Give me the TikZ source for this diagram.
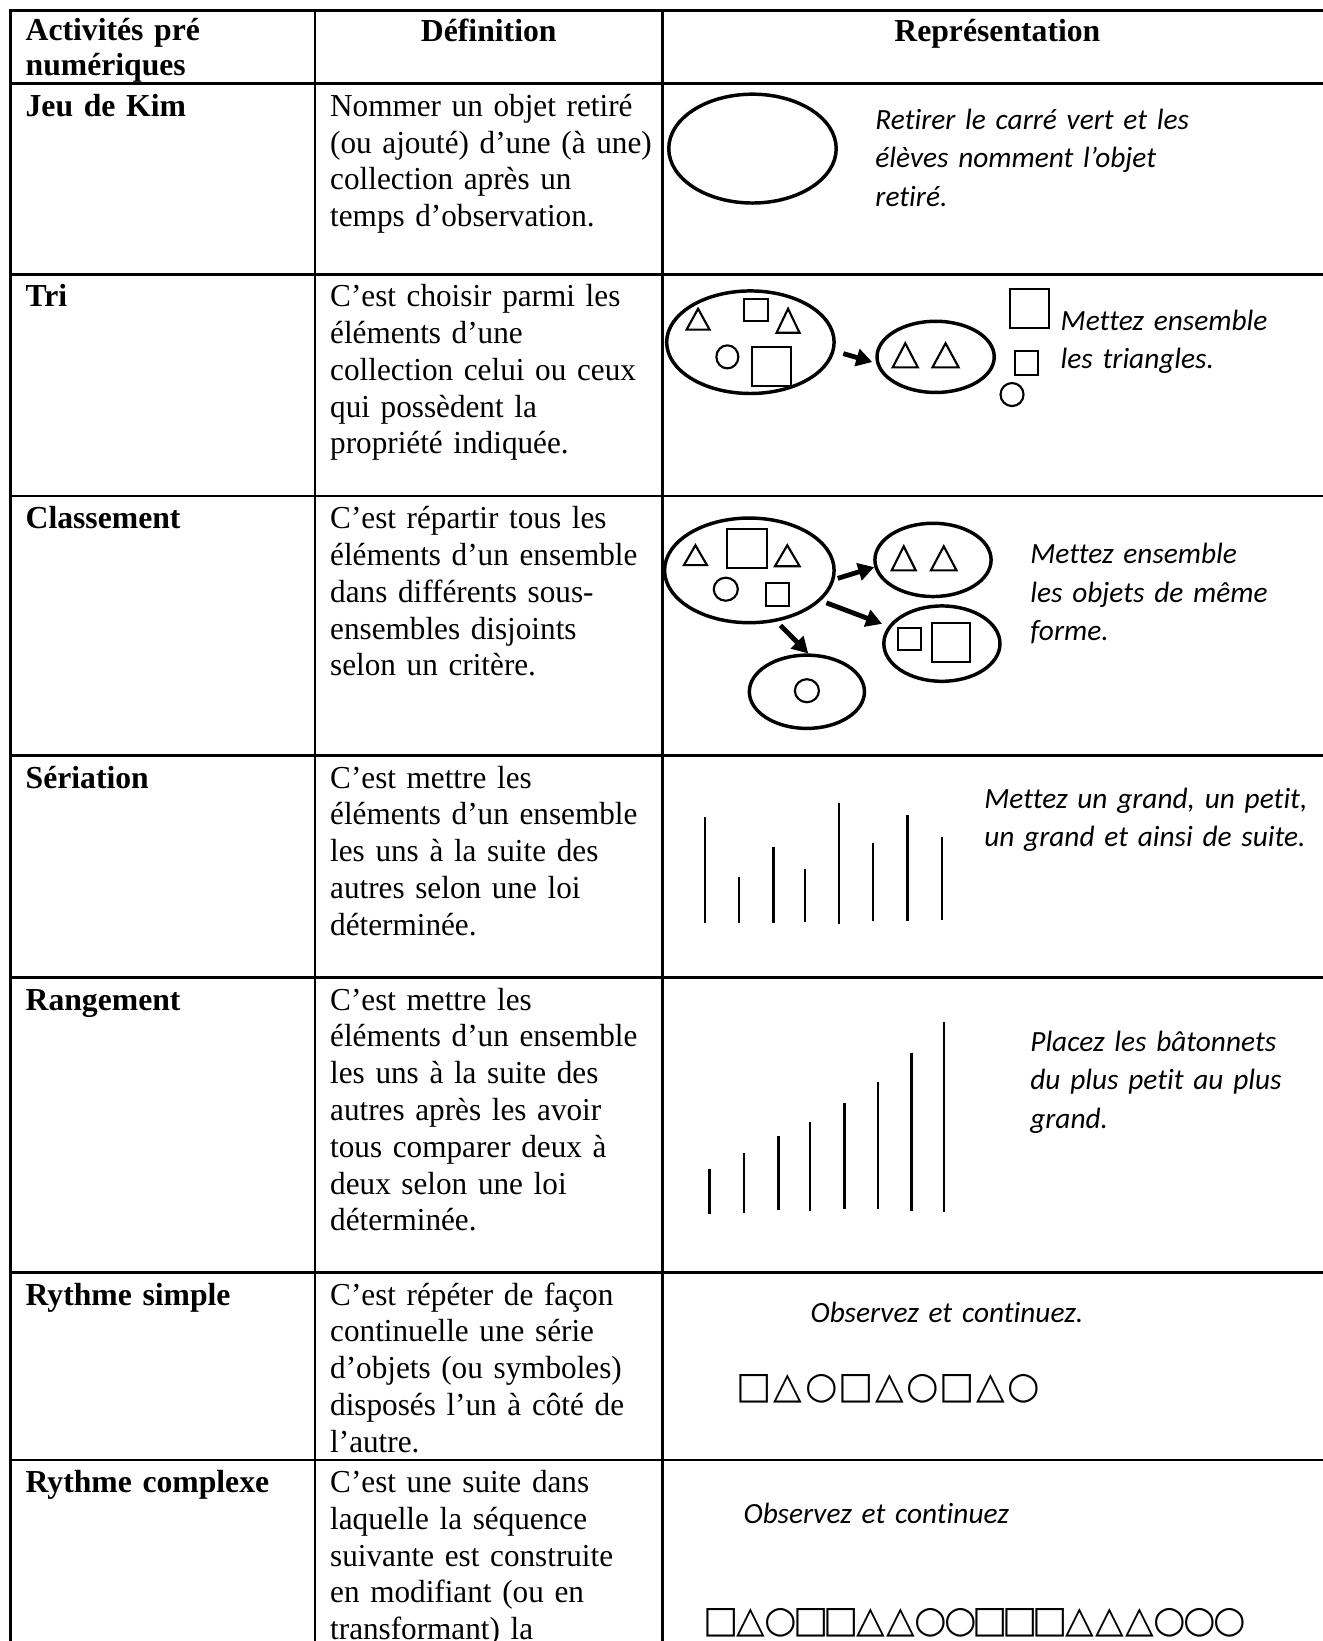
\documentclass[tikz,border=0pt]{standalone}
\usepackage{fontspec}
\setmainfont{Liberation Serif}[FakeStretch=0.975, BoldFeatures={FakeStretch=0.99}]
\newfontfamily\calfont{Carlito}[Ligatures={NoCommon,NoContextual}]
\newfontfamily\symfont{DejaVu Sans}
\usetikzlibrary{arrows.meta,shapes.geometric}
\begin{document}
\begin{tikzpicture}[x=0.3925pt,y=-0.3925pt,
  tabline/.style={line width=1pt},
  lab/.style={anchor=north west, inner sep=0pt, text width=135pt, align=left, font=\fontsize{12}{13.8}\selectfont},
  labb/.style={lab, font=\bfseries\fontsize{12}{13.8}\selectfont},
  hdc/.style={anchor=north, inner sep=0pt, font=\bfseries\fontsize{12}{13.8}\selectfont},
  rep/.style={anchor=north west, inner sep=0pt, text width=150pt, align=left, font=\calfont\itshape\fontsize{11}{14.5}\selectfont},
  oval/.style={ellipse, draw, line width=1.3pt, inner sep=0pt},
  ell/.style 2 args={oval, minimum width=#1*0.785pt, minimum height=#2*0.785pt},
  shp/.style={line width=0.8pt},
  arr/.style={line width=1.8pt, -{Triangle[length=6pt,width=6.5pt]}},
  stick/.style={line width=0.9pt},
  sym/.style={inner sep=0pt, font=\symfont\fontsize{14}{14}\selectfont}
]
\fill[white] (0,0) rectangle (1264,1568);
\useasboundingbox (0,0) rectangle (1264,1568);
\clip (0,0) rectangle (1264,1568);

% table rules
\draw[tabline] (1300,10) -- (10,10) -- (10,1600);
\foreach \yy in {80,262,474,722,934,1216,1395}
  \draw[tabline] (10,\yy) -- (1300,\yy);
\foreach \xx in {301,633}
  \draw[tabline] (\xx,10) -- (\xx,1600);

% header
\node[labb, font=\bfseries\fontsize{12}{13}\selectfont] (h1) at (24,15) {\strut Activités pré\\numériques};
\node[hdc] (h2) at (467,15) {\strut Définition};
\node[hdc] (h3) at (953,15) {\strut Représentation};

% column 1
\node[labb] (a1) at (24,86) {\strut Jeu de Kim};
\node[labb] (a2) at (24,268) {\strut Tri};
\node[labb] (a3) at (24,480) {\strut Classement};
\node[labb] (a4) at (24,728) {\strut Sériation};
\node[labb] (a5) at (24,940) {\strut Rangement};
\node[labb] (a6) at (24,1222) {\strut Rythme simple};
\node[labb] (a7) at (24,1401) {\strut Rythme complexe};

% column 2
\node[lab] (d1) at (315,86) {\strut Nommer un objet retiré\\(ou ajouté) d’une (à une)\\collection après un\\temps d’observation.};
\node[lab] (d2) at (315,268) {\strut C’est choisir parmi les\\éléments d’une\\collection celui ou ceux\\qui possèdent la\\propriété indiquée.};
\node[lab] (d3) at (315,480) {\strut C’est répartir tous les\\éléments d’un ensemble\\dans différents sous-\\ensembles disjoints\\selon un critère.};
\node[lab] (d4) at (315,728) {\strut C’est mettre les\\éléments d’un ensemble\\les uns à la suite des\\autres selon une loi\\déterminée.};
\node[lab] (d5) at (315,940) {\strut C’est mettre les\\éléments d’un ensemble\\les uns à la suite des\\autres après les avoir\\tous comparer deux à\\deux selon une loi\\déterminée.};
\node[lab] (d6) at (315,1222) {\strut C’est répéter de façon\\continuelle une série\\d’objets (ou symboles)\\disposés l’un à côté de\\l’autre.};
\node[lab] (d7) at (315,1401) {\strut C’est une suite dans\\laquelle la séquence\\suivante est construite\\en modifiant (ou en\\transformant) la};

% column 3 texts
\node[rep] (r1) at (836,97) {\strut Retirer le carré vert et les\\élèves nomment l’objet\\retiré.};
\node[rep] (r2) at (1013,289) {\strut Mettez ensemble\\les triangles.};
\node[rep] (r3) at (984,512) {\strut Mettez ensemble\\les objets de même\\forme.};
\node[rep] (r4) at (940,746) {\strut Mettez un grand, un petit,\\un grand et ainsi de suite.};
\node[rep] (r5) at (984,978) {\strut Placez les bâtonnets\\du plus petit au plus\\grand.};
\node[rep] (r6) at (774,1237) {\strut Observez et continuez.};
\node[rep] (r7) at (710,1429) {\strut Observez et continuez};

% Jeu de Kim
\node[ell={80}{52}] (k1) at (719,142) {};

% Tri
\node[ell={80}{49}] (t1) at (717,327) {};
\draw[shp] (656,315) -- (667,295) -- (678,315) -- cycle;
\draw[shp] (711,286) rectangle (734,307);
\draw[shp] (742,318) -- (753,295) -- (764,318) -- cycle;
\draw[shp] (695,341) ellipse [x radius=10.5, y radius=11];
\draw[shp] (718.5,331.5) rectangle (755.7,369);
\node[ell={56}{34}] (t2) at (894,341) {};
\draw[shp] (853,351) -- (865,328) -- (877,351) -- cycle;
\draw[shp] (891,351) -- (903.5,328) -- (916,351) -- cycle;
\draw[shp] (965,276) rectangle (1002,313);
\draw[shp] (970,335) rectangle (992,358);
\draw[shp] (967,377) ellipse [x radius=11, y radius=11];
\draw[arr, shorten <=3.4pt, shorten >=1.5pt] (t1.-6) -- (t2.186);

% Classement
\node[ell={81}{50}] (c1) at (716,545) {};
\draw[shp] (653.5,540) -- (664.5,521) -- (675.5,540) -- cycle;
\draw[shp] (694.6,505.6) rectangle (733,542.7);
\draw[shp] (740.5,541) -- (752.25,521) -- (764,541) -- cycle;
\draw[shp] (693.5,563) ellipse [x radius=11.5, y radius=11];
\draw[shp] (732,557) rectangle (754,579);
\node[ell={55.5}{35}] (c2) at (891.5,535) {};
\draw[shp] (852,545) -- (863.5,522) -- (875,545) -- cycle;
\draw[shp] (889.5,545) -- (901.75,522) -- (914,545) -- cycle;
\node[ell={55.5}{36}] (c3) at (900,615) {};
\draw[shp] (858,600) rectangle (880,621);
\draw[shp] (890.5,595) rectangle (926.5,632.5);
\node[ell={55}{35}] (c4) at (771,661) {};
\draw[shp] (771,660) ellipse [x radius=11.5, y radius=11];
\draw[arr, shorten <=1.2pt] (c1.-6) -- (c2.187.5);
\draw[arr, shorten <=2.2pt, shorten >=2.5pt] (c1.-23) -- (c3.162);
\draw[arr, shorten <=2pt] (c1.-62.6) -- (c4.88);

% Seriation
\foreach \xx/\ta/\tb in {673.6/780.6/881.5, 706/838/881.5, 739/809/881.5, 769/830/880.6, 801.5/767/882.8, 834/805.5/880, 867/779/880, 900/800/879.2}
  \draw[stick] (\xx,\ta) -- (\xx,\tb);

% Rangement
\foreach \xx/\ta/\tb in {678/1117/1160, 711/1102/1159, 744/1085/1156, 774/1072/1157, 807/1054/1155, 839/1034/1155.4, 871/1006/1157, 902/977/1157.6}
  \draw[stick] (\xx,\ta) -- (\xx,\tb);

% Rythme simple
\foreach \s [count=\i from 0] in {□,△,○,□,△,○,□,△,○}
  \node[sym] (sa\i) at ({721+32.2*\i},1327) {\s};

% Rythme complexe
\foreach \s [count=\i from 0] in {□,△,○,□,□,△,△,○,○,□,□,□,△,△,△,○,○,○}
  \node[sym] (sb\i) at ({689+28.6*\i},1551) {\s};
\end{tikzpicture}
\end{document}
